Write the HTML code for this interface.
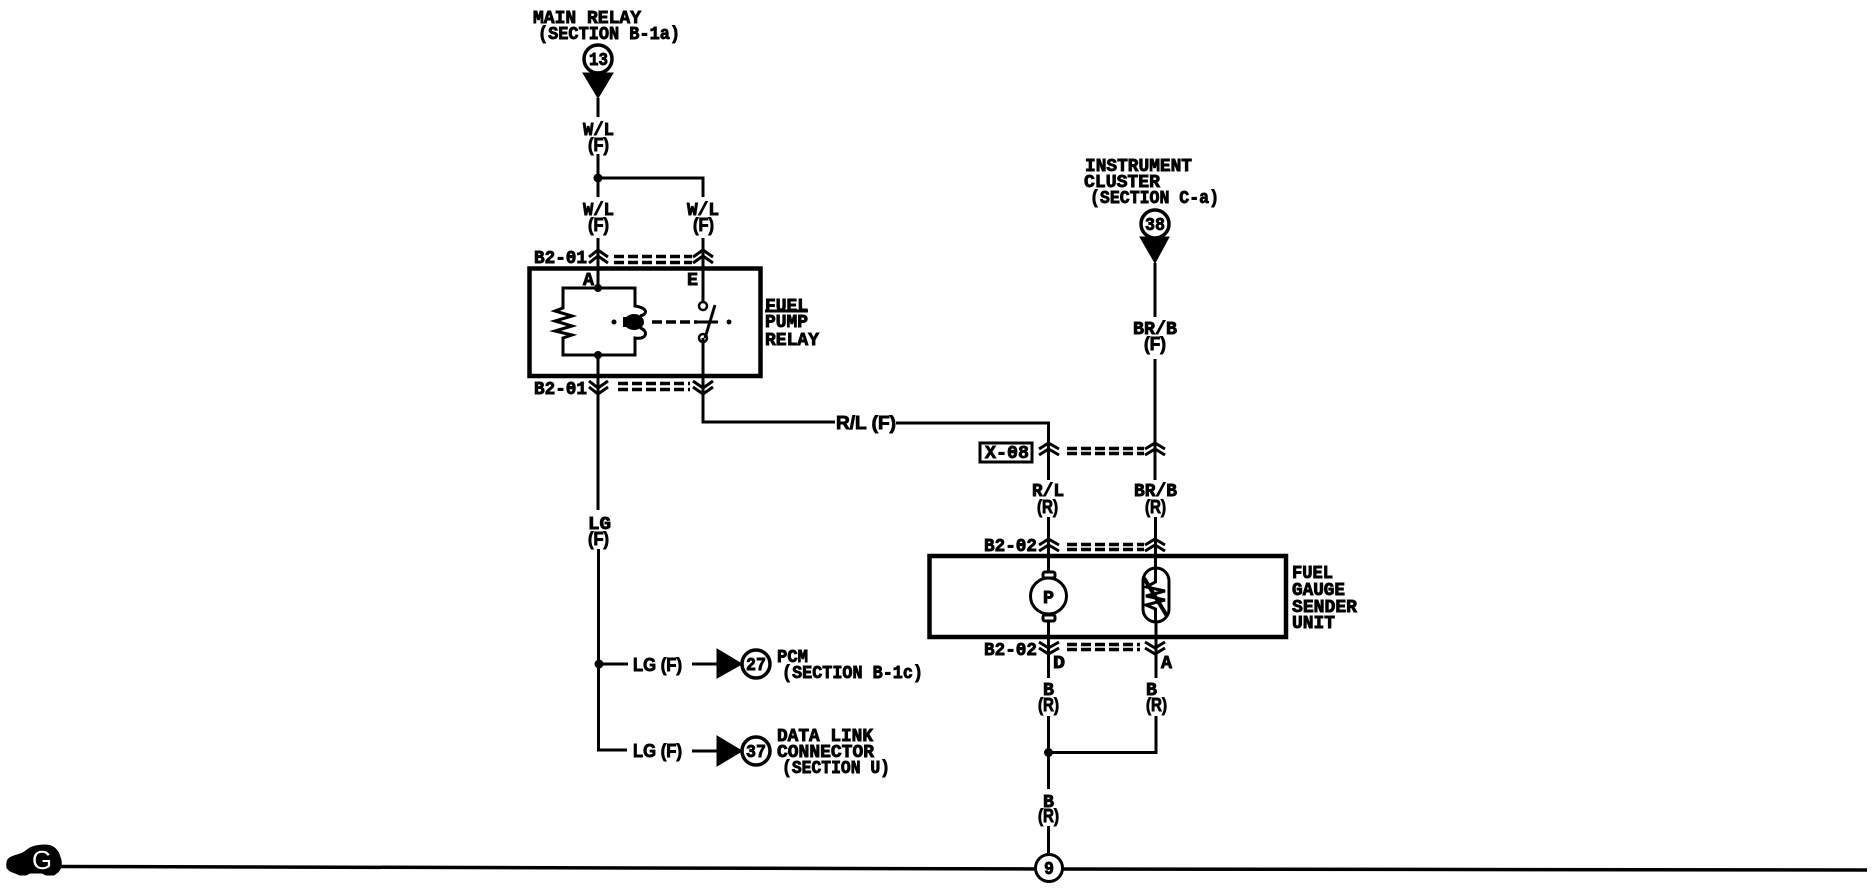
<!DOCTYPE html>
<html>
<head>
<meta charset="utf-8">
<style>
html,body{margin:0;padding:0;background:#fff;width:1872px;height:896px;overflow:hidden}
svg{display:block}
text{font-family:"Liberation Mono",monospace;font-weight:bold;font-size:18px;fill:#000;stroke:#000;stroke-width:.9}
text.s{font-family:"Liberation Sans",sans-serif}
.w{fill:none;stroke:#000;stroke-width:3}
.b{fill:none;stroke:#000;stroke-width:4.5}
.c{fill:none;stroke:#000;stroke-width:3}
.d{fill:none;stroke:#000;stroke-width:3.5;stroke-dasharray:10 4}
</style>
</head>
<body>
<svg width="1872" height="896" viewBox="0 0 1872 896" xmlns="http://www.w3.org/2000/svg">
<rect width="1872" height="896" fill="#fff"/>

<!-- top left labels -->
<text x="533" y="23" textLength="108" lengthAdjust="spacingAndGlyphs">MAIN RELAY</text>
<text x="538" y="39" textLength="142" lengthAdjust="spacingAndGlyphs">(SECTION B-1a)</text>
<circle cx="598" cy="59" r="14" fill="#fff" stroke="#000" stroke-width="3.5"/>
<text x="589" y="65" textLength="19" lengthAdjust="spacingAndGlyphs">13</text>
<path d="M583 73H613L598 98Z" fill="#000" stroke="#000"/>
<path class="w" d="M598 98V117M598 154V197M598 178H703V197"/>
<circle cx="598" cy="178" r="4.5"/>
<text x="583" y="135" textLength="31" lengthAdjust="spacingAndGlyphs">W/L</text>
<text class="s" x="588" y="151" textLength="21" lengthAdjust="spacingAndGlyphs">(F)</text>
<text x="583" y="215" textLength="31" lengthAdjust="spacingAndGlyphs">W/L</text>
<text class="s" x="588" y="231" textLength="21" lengthAdjust="spacingAndGlyphs">(F)</text>
<text x="687" y="215" textLength="32" lengthAdjust="spacingAndGlyphs">W/L</text>
<text class="s" x="693" y="231" textLength="21" lengthAdjust="spacingAndGlyphs">(F)</text>

<!-- relay connector top -->
<path class="w" d="M598 238V288M703 238V306"/>
<text x="534" y="263" textLength="53" lengthAdjust="spacingAndGlyphs">B2-01</text>
<path class="c" d="M589 257L598 250L608 257M589 263L598 256L608 263M693 257L703 250L713 257M693 263L703 256L713 263"/>
<path class="d" d="M614 256.500H692M614 262.500H692"/>

<!-- relay box -->
<rect class="b" x="529.500" y="268.500" width="231" height="107.500"/>
<text x="583" y="285" textLength="11" lengthAdjust="spacingAndGlyphs">A</text>
<text x="687" y="285" textLength="11" lengthAdjust="spacingAndGlyphs">E</text>
<path class="w" d="M598 288H563V308L555 311L572 316L555 321L572 326L555 331L572 335L563 338V355H635V338C648 340 648 330 640 328M640 316C648 314 648 308 635 306V288H598"/>
<circle cx="598" cy="288" r="4"/>
<circle cx="598" cy="355" r="4"/>
<ellipse cx="634" cy="322" rx="10" ry="8"/>
<path d="M623 317H630V327H623Z"/>
<circle cx="614" cy="322" r="2.500"/>
<path d="M652 322H697" class="d"/>
<path class="w" d="M697 322H718"/>
<circle cx="729" cy="322" r="2.500"/>
<circle cx="703" cy="306" r="4" fill="#fff" stroke="#000" stroke-width="2.500"/>
<circle cx="703" cy="338" r="4" fill="#fff" stroke="#000" stroke-width="2.500"/>
<path class="w" d="M705 338L715 305"/>
<text x="765" y="311" textLength="43" lengthAdjust="spacingAndGlyphs">FUEL</text>
<path class="w" d="M765 311H808"/>
<text x="765" y="327" textLength="43" lengthAdjust="spacingAndGlyphs">PUMP</text>
<text x="765" y="345" textLength="54" lengthAdjust="spacingAndGlyphs">RELAY</text>

<!-- relay connector bottom -->
<text x="534" y="394" textLength="53" lengthAdjust="spacingAndGlyphs">B2-01</text>
<path class="c" d="M589 381L598 388L608 381M589 387L598 394L608 387M693 381L703 388L713 381M693 387L703 394L713 387"/>
<path class="d" d="M618 383.500H690M618 389.500H690"/>
<path class="w" d="M598 355V510M598.500 549V750H627M598 664H628"/>
<path class="w" d="M703 338V422H835"/>
<text class="s" x="836" y="429" textLength="60" lengthAdjust="spacingAndGlyphs">R/L (F)</text>
<path class="w" d="M896 423H1048.500V480"/>

<text x="588" y="529" textLength="23" lengthAdjust="spacingAndGlyphs">LG</text>
<text class="s" x="588" y="545" textLength="21" lengthAdjust="spacingAndGlyphs">(F)</text>

<circle cx="599" cy="664" r="4.500"/>
<text class="s" x="633" y="671" textLength="49" lengthAdjust="spacingAndGlyphs">LG (F)</text>
<path class="w" d="M692 664H720"/>
<path d="M717 649V678L742 664Z" stroke="#000"/>
<circle cx="756" cy="664" r="14" fill="#fff" stroke="#000" stroke-width="3.5"/>
<text x="746" y="670" textLength="20" lengthAdjust="spacingAndGlyphs">27</text>
<text x="777" y="662" textLength="31" lengthAdjust="spacingAndGlyphs">PCM</text>
<text x="782" y="678" textLength="141" lengthAdjust="spacingAndGlyphs">(SECTION B-1c)</text>

<text class="s" x="633" y="757" textLength="49" lengthAdjust="spacingAndGlyphs">LG (F)</text>
<path class="w" d="M692 751H720"/>
<path d="M717 736V766L742 751Z" stroke="#000"/>
<circle cx="756" cy="751" r="14" fill="#fff" stroke="#000" stroke-width="3.5"/>
<text x="746" y="757" textLength="20" lengthAdjust="spacingAndGlyphs">37</text>
<text x="777" y="741" textLength="96" lengthAdjust="spacingAndGlyphs">DATA LINK</text>
<text x="777" y="757" textLength="97" lengthAdjust="spacingAndGlyphs">CONNECTOR</text>
<text x="782" y="773" textLength="108" lengthAdjust="spacingAndGlyphs">(SECTION U)</text>

<!-- instrument cluster -->
<text x="1085" y="171" textLength="107" lengthAdjust="spacingAndGlyphs">INSTRUMENT</text>
<text x="1084" y="187" textLength="76" lengthAdjust="spacingAndGlyphs">CLUSTER</text>
<text x="1090" y="203" textLength="129" lengthAdjust="spacingAndGlyphs">(SECTION C-a)</text>
<circle cx="1155" cy="224" r="14" fill="#fff" stroke="#000" stroke-width="3.5"/>
<text x="1145" y="230" textLength="20" lengthAdjust="spacingAndGlyphs">38</text>
<path d="M1140 237H1169L1155 263Z" stroke="#000"/>
<path class="w" d="M1155 263V317M1155 359V480"/>
<text x="1133" y="334" textLength="44" lengthAdjust="spacingAndGlyphs">BR/B</text>
<text class="s" x="1144" y="350" textLength="22" lengthAdjust="spacingAndGlyphs">(F)</text>

<!-- X-08 -->
<rect x="980" y="443" width="52" height="19" fill="none" stroke="#000" stroke-width="3"/>
<text x="985" y="458" textLength="44" lengthAdjust="spacingAndGlyphs">X-08</text>
<path class="c" d="M1039 449L1048.500 443L1059 449M1039 455L1048.500 449L1059 455M1145 449L1155 443L1165 449M1145 455L1155 449L1165 455"/>
<path class="d" d="M1067 448.500H1144M1067 453.500H1144"/>
<text x="1032" y="496" textLength="32" lengthAdjust="spacingAndGlyphs">R/L</text>
<text class="s" x="1037" y="513" textLength="21" lengthAdjust="spacingAndGlyphs">(R)</text>
<text x="1134" y="496" textLength="43" lengthAdjust="spacingAndGlyphs">BR/B</text>
<text class="s" x="1145" y="513" textLength="21" lengthAdjust="spacingAndGlyphs">(R)</text>

<!-- sender unit -->
<path class="w" d="M1048.500 517V572M1155.500 517V568"/>
<text x="984" y="551" textLength="53" lengthAdjust="spacingAndGlyphs">B2-02</text>
<path class="c" d="M1039 545L1048.500 539L1059 545M1039 551L1048.500 545L1059 551M1145 545L1155 539L1165 545M1145 551L1155 545L1165 551"/>
<path class="d" d="M1067 544.500H1144M1067 549.500H1144"/>
<rect class="b" x="929.500" y="556" width="356.500" height="81"/>
<circle cx="1048.500" cy="596" r="18" fill="#fff" stroke="#000" stroke-width="3"/>
<rect x="1043" y="572" width="12" height="6" rx="2" fill="#fff" stroke="#000" stroke-width="3"/>
<rect x="1043" y="615" width="12" height="6" rx="2" fill="#fff" stroke="#000" stroke-width="3"/>
<text x="1043" y="603" textLength="11" lengthAdjust="spacingAndGlyphs">P</text>
<rect x="1143" y="568" width="26" height="54" rx="13" fill="#fff" stroke="#000" stroke-width="3"/>
<path class="w" d="M1155.500 568V582L1146 587L1165 591L1146 596L1165 600L1146 605L1155.500 609V622"/>
<path fill="none" stroke="#000" stroke-width="4" d="M1144 578L1167 616"/>
<text x="1292" y="578" textLength="41" lengthAdjust="spacingAndGlyphs">FUEL</text>
<text x="1292" y="595" textLength="53" lengthAdjust="spacingAndGlyphs">GAUGE</text>
<text x="1292" y="612" textLength="65" lengthAdjust="spacingAndGlyphs">SENDER</text>
<text x="1292" y="628" textLength="43" lengthAdjust="spacingAndGlyphs">UNIT</text>

<!-- sender lower connector -->
<text x="984" y="655" textLength="53" lengthAdjust="spacingAndGlyphs">B2-02</text>
<path class="c" d="M1039 642L1048.500 648L1059 642M1039 648L1048.500 654L1059 648M1145 642L1155 648L1165 642M1145 648L1155 654L1165 648"/>
<path class="d" d="M1067 644.500H1140M1067 649.500H1140"/>
<path class="w" d="M1048.500 622V678M1156 622V678"/>
<text x="1053" y="668" textLength="12" lengthAdjust="spacingAndGlyphs">D</text>
<text x="1161" y="668" textLength="11" lengthAdjust="spacingAndGlyphs">A</text>
<text x="1043" y="695" textLength="11" lengthAdjust="spacingAndGlyphs">B</text>
<text class="s" x="1038" y="711" textLength="21" lengthAdjust="spacingAndGlyphs">(R)</text>
<text x="1146" y="695" textLength="11" lengthAdjust="spacingAndGlyphs">B</text>
<text class="s" x="1146" y="711" textLength="21" lengthAdjust="spacingAndGlyphs">(R)</text>
<path class="w" d="M1048.500 716V789M1156 716V752.500H1048.500M1048.500 826V856"/>
<circle cx="1048.500" cy="752.500" r="4.500"/>
<text x="1043" y="807" textLength="11" lengthAdjust="spacingAndGlyphs">B</text>
<text class="s" x="1038" y="822" textLength="21" lengthAdjust="spacingAndGlyphs">(R)</text>

<!-- ground line -->
<path fill="none" stroke="#000" stroke-width="3.500" d="M60 866.500L1048 869L1867 870"/>
<circle cx="1049" cy="868" r="13.500" fill="#fff" stroke="#000" stroke-width="3"/>
<text x="1044" y="874" textLength="10" lengthAdjust="spacingAndGlyphs">9</text>

<!-- car symbol -->
<path d="M7 868C6 860 8 858 14 856C20 854 24 853 27 850C32 846 38 845 45 845C54 845 58 850 60 857C62 862 62 868 58 872L54 875H46L42 873H30L26 875H20L10 871Z" stroke="#000"/>
<text x="32" y="869" style="font-family:'Liberation Sans',sans-serif;font-weight:normal;font-size:26px;fill:#fff;stroke:none" textLength="20" lengthAdjust="spacingAndGlyphs">G</text>
</svg>
</body>
</html>
